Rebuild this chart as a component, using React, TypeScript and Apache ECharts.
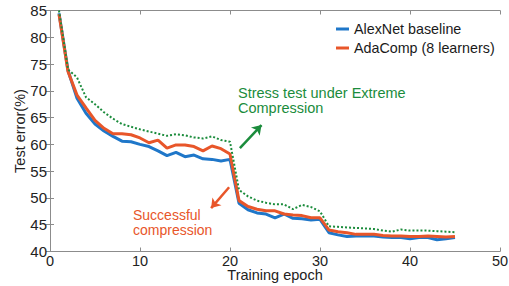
import React, { useEffect, useRef } from 'react';
import * as echarts from 'echarts';

const epochs = [1, 2, 3, 4, 5, 6, 7, 8, 9, 10, 11, 12, 13, 14, 15, 16, 17, 18, 19, 20, 21, 22, 23, 24, 25, 26, 27, 28, 29, 30, 31, 32, 33, 34, 35, 36, 37, 38, 39, 40, 41, 42, 43, 44, 45];

const alexnetBaseline = [84.5, 73.8, 68.6, 65.8, 63.8, 62.5, 61.5, 60.6, 60.5, 60.0,
  59.6, 58.8, 57.9, 58.5, 57.7, 58.0, 57.3, 57.2, 56.9, 57.2,
  49.0, 47.8, 47.2, 47.0, 46.3, 47.0, 46.2, 46.1, 45.9, 46.0,
  43.5, 43.1, 42.8, 42.9, 42.9, 42.9, 42.7, 42.6, 42.6, 42.4, 42.6, 42.6, 42.2, 42.4, 42.6];

const adaComp = [84.3, 73.6, 69.2, 66.8, 64.5, 63.0, 62.0, 62.0, 61.8, 61.2,
  60.3, 60.8, 59.3, 59.9, 59.9, 59.6, 58.8, 59.7, 59.2, 58.2,
  49.5, 48.4, 47.9, 47.6, 47.6, 47.0, 46.8, 46.7, 46.3, 46.3,
  44.0, 43.7, 43.5, 43.2, 43.2, 43.2, 43.0, 42.9, 42.9, 42.8, 42.8, 42.9, 42.8, 42.7, 42.8];

const stressTest = [85.0, 74.0, 72.5, 68.8, 67.5, 66.0, 64.8, 63.8, 63.3, 62.8,
  62.4, 62.0, 61.6, 61.9, 61.7, 61.3, 61.1, 61.5, 60.8, 60.5,
  51.5, 50.3, 49.5, 49.1, 48.8, 48.8, 47.9, 48.7, 48.3, 47.5,
  44.7, 44.6, 44.5, 44.4, 44.3, 44.2, 43.9, 43.7, 44.1, 43.9, 43.9, 43.9, 43.8, 43.7, 43.6];

const seriesNames = ['AlexNet baseline', 'AdaComp (8 learners)'];
const stressArrow = [[21.1, 59.3], [23.5, 63.6]];
const successArrow = [[19.9, 52.0], [17.9, 48.1]];

const BLUE = '#1f77c9';
const RED = '#e8562a';
const GREEN = '#1b8c3c';
const FONT = 'Liberation Sans';

const pairs = (vals: number[]) => epochs.map((e, i) => [e, vals[i]]);

export default function App() {
  const ref = useRef<HTMLDivElement>(null);
  useEffect(() => {
    const chart = echarts.init(ref.current!, undefined, { renderer: 'svg' });
    const axisLine = { show: true, lineStyle: { color: '#8c8c8c', width: 1 } };
    const tick = { show: true, inside: true, length: 4, lineStyle: { color: '#8c8c8c' } };
    chart.setOption({
      animation: false,
      backgroundColor: '#ffffff',
      grid: { left: 50, right: 9, top: 10.5, bottom: 34.5, containLabel: false, outerBoundsMode: 'none' },
      legend: {
        data: seriesNames,
        orient: 'vertical',
        left: 331,
        top: 17,
        icon: 'rect',
        itemWidth: 13,
        itemHeight: 3,
        itemGap: 5,
        textStyle: { fontSize: 14.3, color: '#1a1a1a', fontFamily: FONT },
      },
      xAxis: [
        {
          type: 'value', position: 'bottom', min: 0, max: 50, interval: 10,
          axisLine, axisTick: tick, splitLine: { show: false },
          axisLabel: { fontSize: 14.5, color: '#222', fontFamily: FONT, margin: 2, lineHeight: 14 },
          name: 'Training epoch', nameLocation: 'middle', nameGap: 16, nameMoveOverlap: false,
          nameTextStyle: { fontSize: 14.5, color: '#222', fontFamily: FONT, lineHeight: 14 },
        },
        {
          type: 'value', position: 'top', min: 0, max: 50, interval: 10,
          axisLine, axisTick: tick, splitLine: { show: false }, axisLabel: { show: false },
        },
      ],
      yAxis: [
        {
          type: 'value', position: 'left', min: 40, max: 85, interval: 5,
          axisLine, axisTick: tick, splitLine: { show: false },
          axisLabel: { fontSize: 15, color: '#222', fontFamily: FONT, margin: 3 },
          name: 'Test error(%)', nameLocation: 'middle', nameGap: 23, nameMoveOverlap: false,
          nameTextStyle: { fontSize: 14.5, color: '#222', fontFamily: FONT },
        },
        {
          type: 'value', position: 'right', min: 40, max: 85, interval: 5,
          axisLine, axisTick: tick, splitLine: { show: false }, axisLabel: { show: false },
        },
      ],
      series: [
        {
          name: seriesNames[0], type: 'line', data: pairs(alexnetBaseline),
          showSymbol: false, symbol: 'none', color: BLUE,
          lineStyle: { color: BLUE, width: 3 },
        },
        {
          name: seriesNames[1], type: 'line', data: pairs(adaComp),
          showSymbol: false, symbol: 'none', color: RED,
          lineStyle: { color: RED, width: 3 },
          markLine: {
            silent: true, symbol: ['none', 'arrow'], symbolSize: 9,
            label: { show: false },
            lineStyle: { color: RED, width: 2.5, type: 'solid' },
            data: [[{ coord: successArrow[0] }, { coord: successArrow[1] }]],
          },
        },
        {
          name: 'Stress test', type: 'line', data: pairs(stressTest),
          showSymbol: false, symbol: 'none', color: GREEN,
          lineStyle: { color: GREEN, width: 2, type: [2, 2] },
          markLine: {
            silent: true, symbol: ['none', 'arrow'], symbolSize: 9,
            label: { show: false },
            lineStyle: { color: GREEN, width: 2.5, type: 'solid' },
            data: [[{ coord: stressArrow[0] }, { coord: stressArrow[1] }]],
          },
        },
      ],
      graphic: [
        {
          type: 'text', left: 238, top: 85.5,
          style: { text: 'Stress test under Extreme\nCompression', fill: GREEN, fontSize: 14.5, fontFamily: FONT, lineHeight: 15 },
        },
        {
          type: 'text', left: 133, top: 207.5,
          style: { text: 'Successful\ncompression', fill: RED, fontSize: 14, fontFamily: FONT, lineHeight: 15 },
        },
      ],
    });
    return () => chart.dispose();
  }, []);
  return <div ref={ref} style={{ position: 'fixed', left: 0, top: 0, width: 509, height: 286 }} />;
}
